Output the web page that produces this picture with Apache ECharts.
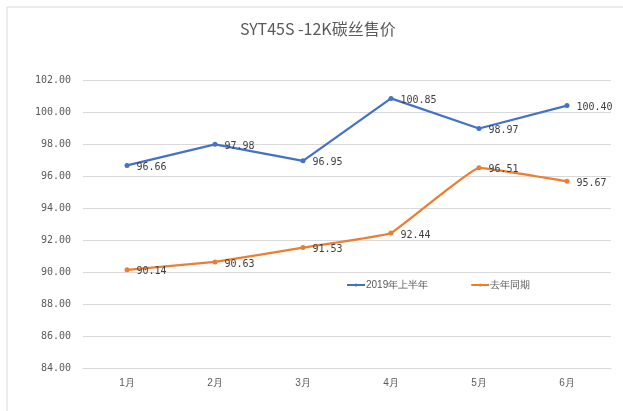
<!DOCTYPE html>
<html>
<head>
<meta charset="utf-8">
<script src="https://cdn.jsdelivr.net/npm/echarts@6/dist/echarts.min.js"></script>
<style>
  html, body { margin: 0; padding: 0; background: #fff; }
  #main { width: 623px; height: 411px; }
</style>
</head>
<body>
<div id="main"></div>
<script>
// 数据
const months = ["1月", "2月", "3月", "4月", "5月", "6月"];
const thisYear = [96.66, 97.98, 96.95, 100.85, 98.97, 100.40];
const lastYear = [90.14, 90.63, 91.53, 92.44, 96.51, 95.67];
const seriesNames = ["2019年上半年", "去年同期"];

const chart = echarts.init(document.getElementById("main"));

const labelStyle = {
  show: true,
  position: "right",
  offset: [2, 2],
  color: "#404040",
  fontSize: 10,
  fontFamily: "DejaVu Sans Mono",
  formatter: p => p.value.toFixed(2)
};

let option = {
  animation: false,
  color: ["#4472C4", "#ED7D31"],
  graphic: [{
    type: "rect",
    shape: { x: 7, y: 7, width: 700, height: 500 },
    style: { fill: "none", stroke: "#d9d9d9", lineWidth: 1 }
  }],
  title: {
    text: "SYT45S -12K碳丝售价",
    left: 235,
    top: 16,
    textStyle: {
      color: "#595959",
      fontSize: 16,
      fontWeight: "normal",
      fontFamily: "Noto Sans CJK SC"
    }
  },
  legend: {
    data: seriesNames,
    left: 341,
    top: 275,
    itemGap: 42,
    itemWidth: 18,
    itemHeight: 4,
    textStyle: {
      color: "#595959",
      fontSize: 10,
      padding: [0, 0, 0, -4]
    }
  },
  grid: {
    left: 83,
    right: 12,
    top: 80,
    bottom: 43
  },
  xAxis: {
    type: "category",
    data: months,
    axisLine: { show: true, lineStyle: { color: "#d9d9d9" } },
    axisTick: { show: false },
    axisLabel: {
      color: "#595959",
      fontSize: 10,
      margin: 10
    }
  },
  yAxis: {
    type: "value",
    min: 84,
    max: 102,
    interval: 2,
    axisLine: { show: false },
    axisTick: { show: false },
    axisLabel: {
      color: "#595959",
      fontSize: 10,
      fontFamily: "DejaVu Sans Mono",
      margin: 12,
      formatter: v => v.toFixed(2)
    },
    splitLine: {
      lineStyle: { color: "#d9d9d9" }
    }
  },
  series: [{
    name: seriesNames[0],
    type: "line",
    data: thisYear,
    symbol: "circle",
    symbolSize: 5,
    lineStyle: { width: 2.25 },
    label: labelStyle
  }, {
    name: seriesNames[1],
    type: "line",
    data: lastYear,
    smooth: 0.08,
    symbol: "circle",
    symbolSize: 5,
    lineStyle: { width: 2.25 },
    label: labelStyle
  }]
};

chart.setOption(option);
</script>
</body>
</html>
